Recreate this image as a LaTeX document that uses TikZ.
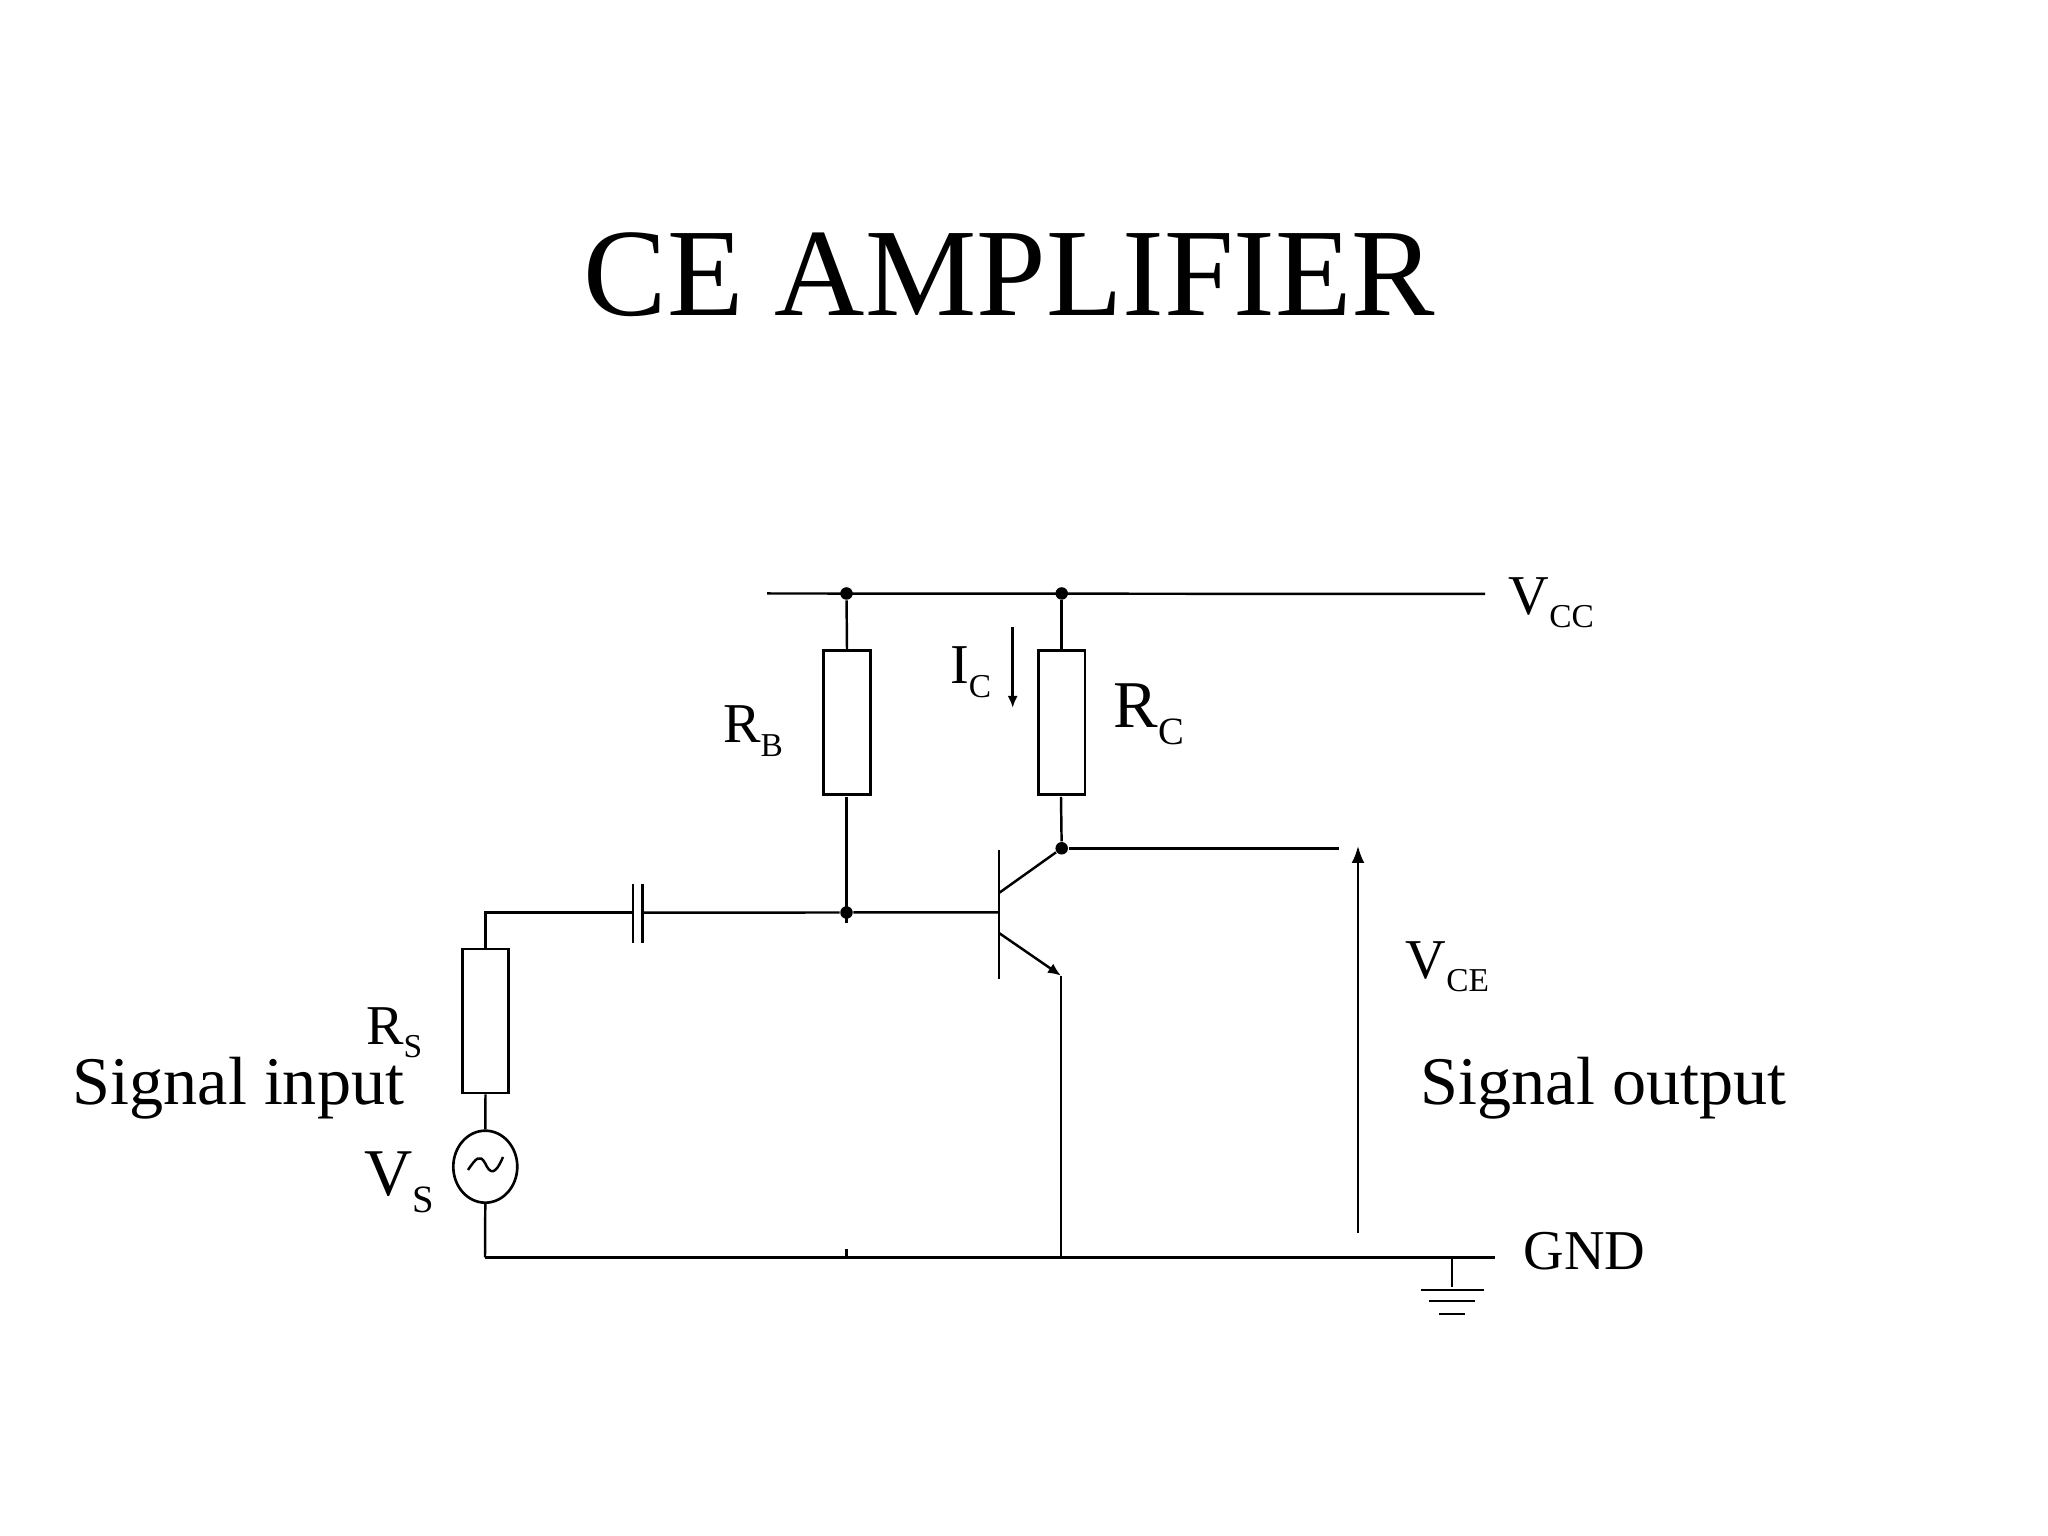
\documentclass[tikz,border=0pt]{standalone}
\usepackage{fontspec}
\setmainfont{Liberation Serif}
\usetikzlibrary{shapes,arrows.meta}
\newcommand{\sublbl}[5]{\fontsize{#1}{#1}\selectfont #2\raisebox{-#3}{\fontsize{#4}{#4}\selectfont #5}}
\tikzset{
  wire/.style={line width=0.7pt},
  res/.style={draw,line width=0.75pt,inner sep=0pt,minimum width=0.465cm,minimum height=1.44cm},
  dot/.style={circle,fill=black,inner sep=0pt,minimum size=0.125cm},
  txt/.style={anchor=base west,inner sep=0pt},
}
\begin{document}
\begin{tikzpicture}
\useasboundingbox (0,0) rectangle (20.48,15.36);

\node[txt,font=\fontsize{35.6}{35.6}\selectfont] (title) at (5.83,12.2) {CE AMPLIFIER};

% resistors and source
\node[res] (rb) at (8.47,8.135) {};
\node[res] (rc) at (10.617,8.135) {};
\node[res] (rs) at (4.855,5.15) {};
\node[draw,ellipse,line width=0.75pt,inner sep=0pt,minimum width=0.64cm,minimum height=0.72cm] (vs) at (4.853,3.693) {};

% dots
\node[dot] (d1) at (8.465,9.425) {};
\node[dot] (d2) at (10.617,9.425) {};
\node[dot] (d3) at (8.465,6.235) {};
\node[dot] (d4) at (10.617,6.877) {};

% free ends
\coordinate (vccl) at (7.67,9.425);
\coordinate (vccr) at (14.85,9.42);
\coordinate (gndl) at (4.85,2.787);
\coordinate (gndr) at (14.95,2.787);
\coordinate (gnde) at (10.61,2.787);
\coordinate (gndt) at (8.465,2.787);
\coordinate (gndu) at (8.465,2.87);
\coordinate (corner) at (4.855,6.233);
\coordinate (stub) at (8.465,6.13);
\coordinate (rbb) at (8.465,7.39);
\coordinate (rcb) at (10.61,7.39);
\coordinate (outr) at (13.39,6.877);
\coordinate (bart) at (9.99,6.86);
\coordinate (barb) at (9.99,5.57);
\coordinate (barm) at (9.99,6.235);
\coordinate (cstart) at (9.99,6.43);
\coordinate (estart) at (9.99,6.03);
\coordinate (eend) at (10.61,5.603);
\coordinate (capl) at (6.32,6.233);
\coordinate (capr) at (6.44,6.233);
\coordinate (p1t) at (6.33,6.52);
\coordinate (p1b) at (6.33,5.93);
\coordinate (p2t) at (6.427,6.52);
\coordinate (p2b) at (6.427,5.93);
\coordinate (ict) at (10.127,9.09);
\coordinate (icb) at (10.127,8.28);
\coordinate (vceb) at (13.58,3.03);
\coordinate (vcet) at (13.58,6.9);
\coordinate (g0) at (14.52,2.787);
\coordinate (g1) at (14.52,2.49);
\coordinate (g1l) at (14.207,2.46);
\coordinate (g1r) at (14.84,2.46);
\coordinate (g2l) at (14.29,2.35);
\coordinate (g2r) at (14.75,2.35);
\coordinate (g3l) at (14.39,2.22);
\coordinate (g3r) at (14.65,2.22);

\draw[wire] (vccl) -- (vccr);
\draw[wire] (gndl) -- (gndr);
\draw[wire] (d1) -- (rb.north);
\draw[wire] (d2) -- (rc.north);
\draw[wire] (rbb) -- (stub);
\draw[wire] (rcb) -- (d4);
\draw[wire] (d4) -- (outr);
\draw[wire] (capr) -- (d3) -- (barm);
\draw[wire] (rs.north) -- (corner) -- (capl);
\draw[wire] (p1t) -- (p1b);
\draw[wire] (p2t) -- (p2b);
\draw[wire] (rs.south) -- (vs.north);
\draw[wire] (vs.south) -- (gndl);
\draw[wire] (gndt) -- (gndu);

% transistor
\draw[line width=0.8pt] (bart) -- (barb);
\draw[wire] (cstart) -- (d4);
\draw[wire,-{Latex[length=0.13cm,width=0.11cm]}] (estart) -- (eend);
\draw[wire] (eend) -- (gnde);

% sine inside source
\draw[wire] (4.68,3.66) .. controls (4.76,3.78) and (4.80,3.82) .. (4.85,3.73)
  .. controls (4.90,3.62) and (4.95,3.60) .. (5.03,3.79);

% arrows
\draw[wire,-{Latex[length=0.12cm,width=0.1cm]}] (ict) -- (icb);
\draw[wire,-{Latex[length=0.17cm,width=0.13cm]}] (vceb) -- (vcet);

% ground
\draw[wire] (g0) -- (g1);
\draw[wire] (g1l) -- (g1r);
\draw[wire] (g2l) -- (g2r);
\draw[wire] (g3l) -- (g3r);

% labels
\node[txt] (lvcc) at (15.08,9.21) {\sublbl{16}{V}{3.7pt}{9.5}{CC}};
\node[txt] (lvce) at (14.05,5.575) {\sublbl{16}{V}{3.7pt}{9.5}{CE}};
\node[txt] (lrb) at (7.225,7.933) {\sublbl{16}{R}{4pt}{9.5}{B}};
\node[txt] (lrc) at (11.13,8.08) {\sublbl{19}{R}{4.8pt}{11}{C}};
\node[txt] (lic) at (9.495,8.525) {\sublbl{16}{I}{4pt}{9.5}{C}};
\node[txt] (lrs) at (3.655,4.91) {\sublbl{16}{R}{3.7pt}{9.5}{S}};
\node[txt] (lvs) at (3.635,3.40) {\sublbl{19}{V}{4.8pt}{11}{S}};
\node[txt,font=\fontsize{16}{16}\selectfont] (lgnd) at (15.23,2.66) {GND};
\node[txt,font=\fontsize{19.4}{19.4}\selectfont] (lin) at (0.72,4.31) {Signal input};
\node[txt,font=\fontsize{19.4}{19.4}\selectfont] (lout) at (14.2,4.31) {Signal output};
\end{tikzpicture}
\end{document}
